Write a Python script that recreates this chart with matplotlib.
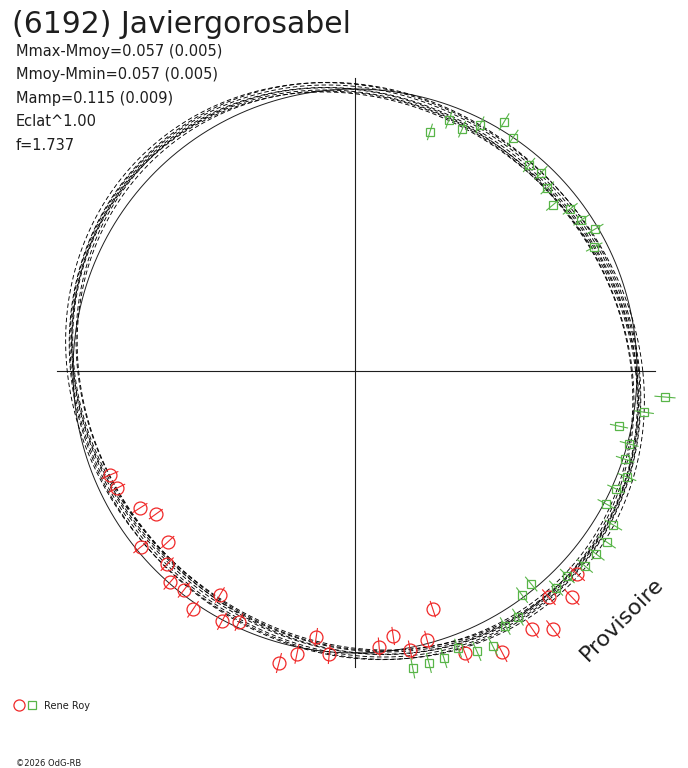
import numpy as np
import matplotlib
matplotlib.use('Agg')
import matplotlib.pyplot as plt

# Titles and fit results
title = '(6192) Javiergorosabel'
stats = ['Mmax-Mmoy=0.057 (0.005)',
         'Mmoy-Mmin=0.057 (0.005)',
         'Mamp=0.115 (0.009)',
         'Eclat^1.00',
         'f=1.737']
observer = 'Rene Roy'
footer = '\u00a92026 OdG-RB'
stamp = 'Provisoire'

# Fourier fit variants (half amplitude in mag, angle of maximum in deg, mean offset in mag)
fit_amp = [0.052, 0.055, 0.057, 0.059, 0.062, 0.056, 0.058, 0.060]
fit_max_deg = [132, 134, 135, 137, 138, 133, 136, 131]
fit_offset = [-0.015, -0.008, 0.000, 0.006, 0.012, 0.018, -0.020, 0.010]

# session 1 (red circles): phase angle in deg, magnitude relative to mean
s1_phase = [203.0, 206.2, 212.5, 215.7, 219.4, 222.4, 225.8, 228.8, 232.0, 235.8,
            238.9, 242.0, 245.2, 255.4, 258.4, 261.7, 264.8, 275.0, 278.2, 281.2,
            285.0, 288.1, 291.3, 297.6, 304.5, 307.5, 310.6, 313.8, 317.6]
s1_dmag = [0.063, 0.067, 0.110, 0.152, 0.019, 0.116, 0.050, 0.005, 0.016, -0.023,
           0.082, -0.005, 0.021, -0.073, -0.026, 0.052, -0.009, 0.020, 0.057, -0.009,
           0.014, 0.129, -0.077, -0.128, -0.113, -0.155, -0.059, -0.114, -0.070]

# session 2 (green squares)
s2_phase = [72.6, 69.5, 66.1, 63.1, 59.1, 55.9, 49.8, 46.8, 43.6, 40.0,
            37.0, 33.7, 30.6, 27.4, 355.2, 351.9, 348.2, 345.1, 341.9, 338.7,
            335.7, 332.1, 329.2, 325.8, 322.8, 319.7, 316.0, 312.8, 309.6, 306.7,
            303.5, 300.5, 296.6, 293.5, 290.4, 287.2, 284.2, 281.0]
s2_dmag = [0.129, 0.056, 0.070, 0.024, -0.031, 0.002, 0.049, 0.041, 0.066, 0.095,
           0.050, 0.040, 0.012, 0.050, -0.106, -0.037, 0.049, -0.006, -0.008, -0.037,
           -0.017, -0.008, -0.069, -0.084, -0.077, -0.072, -0.049, -0.052, 0.022, 0.010,
           -0.049, -0.052, -0.095, -0.087, -0.051, -0.069, -0.071, -0.077]
mag_err = 0.035

RED = '#f02828'
GREEN = '#58b548'
INK = '#1e1e1e'

W, H = 688, 768
CX, CY, R0 = 355, 371, 282  # centre and radius of mean circle, pixels


def to_xy(phase_deg, dmag):
    t = np.radians(np.asarray(phase_deg))
    r = 10 ** (-0.4 * np.asarray(dmag))
    return r * np.cos(t), r * np.sin(t)


def fpos(x, y):
    return x / W, 1 - y / H


fig = plt.figure(figsize=(W / 100, H / 100), dpi=100)
ax = fig.add_axes([0, 0, 1, 1])
ax.set_xlim(-CX / R0, (W - CX) / R0)
ax.set_ylim(-(H - CY) / R0, CY / R0)
ax.axis('off')

# cross
ax.plot([-1.057, 1.064], [0, 0], color=INK, lw=0.8)
ax.plot([0, 0], [-1.050, 1.039], color=INK, lw=0.8)

# mean circle
th = np.linspace(0, 360, 721)
cx, cy = to_xy(th, np.zeros_like(th))
ax.plot(cx, cy, color=INK, lw=0.7)

# fit curves
for a, p, o in zip(fit_amp, fit_max_deg, fit_offset):
    m = o - a * np.cos(np.radians(2 * (th - p)))
    fx, fy = to_xy(th, m)
    ax.plot(fx, fy, color='black', lw=0.65, dashes=(5, 3))


def draw_session(phase, dmag, color, marker, size):
    x, y = to_xy(phase, dmag)
    x1, y1 = to_xy(phase, np.asarray(dmag) - mag_err)
    x2, y2 = to_xy(phase, np.asarray(dmag) + mag_err)
    for i in range(len(x)):
        ax.plot([x1[i], x2[i]], [y1[i], y2[i]], color=color, lw=0.8)
    ax.plot(x, y, linestyle='none', marker=marker, ms=size, mfc='none',
            mec=color, mew=0.9)


draw_session(s1_phase, s1_dmag, RED, 'o', 9.3)
draw_session(s2_phase, s2_dmag, GREEN, 's', 6.3)

# texts
fig.text(*fpos(12, 33), title, fontsize=21.5, color=INK, va='baseline')
for i, s in enumerate(stats):
    fig.text(*fpos(16, 56 + 23.4 * i), s, fontsize=10.5, color=INK, va='baseline')

fig.text(*fpos(622, 619), stamp, fontsize=16, color=INK, rotation=45,
         ha='center', va='center', rotation_mode='anchor')

# legend
ax.plot(*fpos(19.3, 704.7), 'o', transform=ax.transAxes, ms=8, mfc='none',
        mec=RED, mew=0.9)
ax.plot(*fpos(31.7, 705), 's', transform=ax.transAxes, ms=5.5, mfc='none',
        mec=GREEN, mew=0.9)
fig.text(*fpos(43.5, 709), observer, fontsize=7, color=INK, va='baseline')
fig.text(*fpos(16, 766), footer, fontsize=6, color=INK, va='baseline')

fig.savefig('out.png', dpi=100)
